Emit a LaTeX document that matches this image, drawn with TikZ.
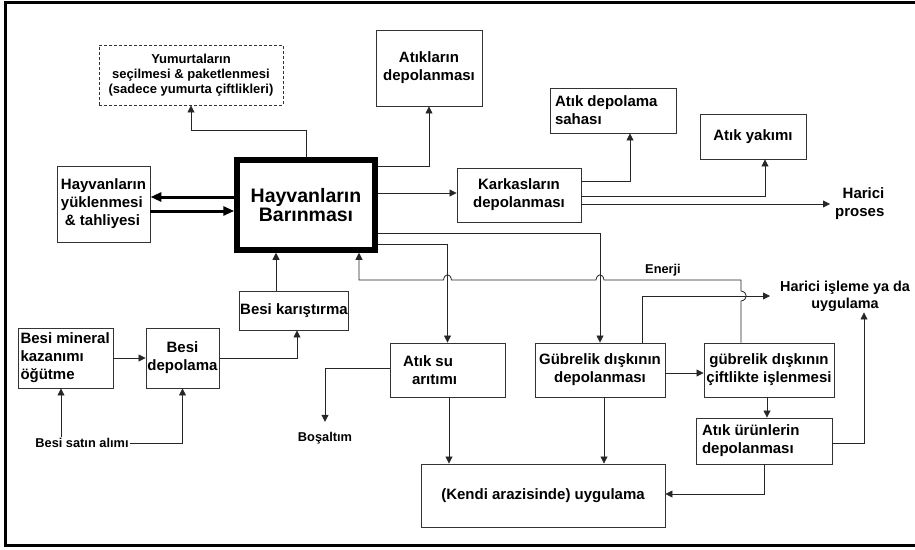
\documentclass[tikz,border=0pt]{standalone}
\usepackage{fontspec}
\setmainfont{Liberation Sans}
\usetikzlibrary{arrows.meta}

\begin{document}
\begin{tikzpicture}[x=1pt,y=-1pt]
            \tikzstyle{every node}+=[inner sep=1pt,font=\bfseries\fontsize{15}{18}\selectfont]
            \tikzstyle{box}=[draw=black!80,line width=0.9pt,align=center]
            \tikzstyle{flow}=[draw=black!85,line width=0.8pt,-{Triangle[length=7pt,width=7pt]}]
            \tikzstyle{bigflow}=[draw=black,line width=3pt,-{Triangle[length=11pt,width=9pt]}]
            \tikzstyle{small}=[font=\bfseries\fontsize{12.8}{15}\selectfont]
            \useasboundingbox (0,0) rectangle (915,549);
            \draw [line width=3pt] (915,2) -| (5.5,545) -- (915,545);
            % boxes
            \node [box,line width=5.5pt,draw=black,minimum width=138pt,minimum height=90pt,
                   font=\bfseries\fontsize{19.5}{19}\selectfont] (main) at (306,205) {Hayvanların\\Barınması};
            \node [box,dashed,dash pattern=on 3pt off 2pt,minimum width=184pt,minimum height=60pt,
                   font=\bfseries\fontsize{13}{15}\selectfont] (egg) at (191,75)
                  {Yumurtaların\\seçilmesi \& paketlenmesi\\(sadece yumurta çiftlikleri)};
            \node [box,minimum width=106pt,minimum height=76pt] (atkdep) at (429,68) {Atıkların\\depolanması};
            \node [box,align=left,minimum width=93pt,minimum height=76pt] (load) at (103.5,204)
                  {Hayvanların\\yüklenmesi\\\hspace*{4pt}\& tahliyesi};
            \node [box,minimum width=124pt,minimum height=54pt] (kark) at (519,195) {Karkasların\\depolanması};
            \node [box,align=flush left,inner xsep=5pt,text width=116pt,minimum height=45pt] (sahasi) at (613,110.5)
                  {Atık depolama\\sahası};
            \node [box,minimum width=106pt,minimum height=45pt] (yakim) at (753,136.5) {Atık yakımı};
            \node [box,minimum width=106pt,minimum height=39pt] (karis) at (294,310.5) {Besi karıştırma};
            \node [box,align=flush left,inner xsep=2.5pt,text width=90pt,minimum height=60pt] (mineral) at (65.5,358)
                  {Besi mineral\\kazanımı\\öğütme};
            \node [box,minimum width=73pt,minimum height=60pt] (bdep) at (182.5,358) {Besi\\depolama};
            \node [box,align=flush left,inner xsep=13pt,text width=89pt,minimum height=54pt] (atiksu) at (447.5,370)
                  {Atık su\\\hspace*{9pt}arıtımı};
            \node [box,minimum width=130pt,minimum height=54pt] (gubre) at (600,370) {Gübrelik dışkının\\depolanması};
            \node [box,minimum width=130pt,minimum height=54pt] (cif) at (769,370) {gübrelik dışkının\\çiftlikte işlenmesi};
            \node [box,align=flush left,inner xsep=6pt,text width=124pt,minimum height=46pt] (urun) at (764,441)
                  {Atık ürünlerin\\depolanması};
            \node [box,minimum width=244pt,minimum height=63pt] (kendi) at (543,495.5) {(Kendi arazisinde) uygulama};
            % free labels
            \node [anchor=west,inner xsep=5pt,align=right] (hproses) at (830,204) {Harici\\proses};
            \node [anchor=west,inner xsep=10pt,align=center,font=\bfseries\fontsize{14.4}{17}\selectfont] (hisleme)
                  at (770,296) {Harici işleme ya da\\uygulama};
            \node [small] (satin) at (82,443) {Besi satın alımı};
            \node [small] (bosaltim) at (325,438) {Boşaltım};
            \node [small] (enerji) at (663,270) {Enerji};
            % connectors
            \draw [flow] (main.north) -- ++(0,-27) -| (egg.south);
            \draw [flow] (main.east |- 0,166) -| (atkdep.south);
            \draw [flow] (main.east |- 0,193) -- (kark.west |- 0,193);
            \draw [flow] (main.east |- 0,233) -| (gubre.north);
            \draw [flow] (main.east |- 0,244) -| (atiksu.north);
            \draw [bigflow] (main.west |- 0,197) -- (load.east |- 0,197);
            \draw [bigflow] (load.east |- 0,211) -- (main.west |- 0,211);
            \draw [flow] (kark.east |- 0,181) -| (630,0 |- sahasi.south);
            \draw [flow] (kark.east |- 0,196) -| (765,0 |- yakim.south);
            \draw [flow] (kark.east |- 0,204) -- (hproses.west);
            \draw [flow] (276,0 |- karis.north) -- (276,0 |- main.south);
            \draw [flow] (bdep.east) -| ([xshift=3pt]karis.south);
            \draw [flow] (mineral.east) -- (bdep.west);
            \draw [flow] (61,0 |- satin.north) -- (61,0 |- mineral.south);
            \draw [flow] (satin.east) -| (bdep.south);
            \draw [flow,shorten >=9pt] (atiksu.west |- 0,368) -| (bosaltim.north);
            \draw [flow] (449,0 |- atiksu.south) -- (449,0 |- kendi.north);
            \draw [flow] (604,0 |- gubre.south) -- (604,0 |- kendi.north);
            \draw [flow] (gubre.east |- 0,373) -- (cif.west |- 0,373);
            \draw [flow] (767,0 |- cif.south) -- (767,0 |- urun.north);
            \draw [flow] (urun.east |- 0,443) -| (864,0 |- hisleme.south);
            \draw [flow] (764,0 |- urun.south) |- (kendi.east |- 0,494);
            \draw [flow] (642,0 |- gubre.north) |- (hisleme.west);
            % energy return line, hops over the crossings
            \draw [flow] (741,0 |- cif.north) -- (741,301)
                  .. controls (748,300) and (748,292) .. (741,291) -- (741,280)
                  -- (604,280) .. controls (603,273) and (597,273) .. (596,280)
                  -- (451.5,280) .. controls (450.5,273) and (444.5,273) .. (443.5,280)
                  -- (359,280) -- (359,0 |- main.south);
\end{tikzpicture}
\end{document}
